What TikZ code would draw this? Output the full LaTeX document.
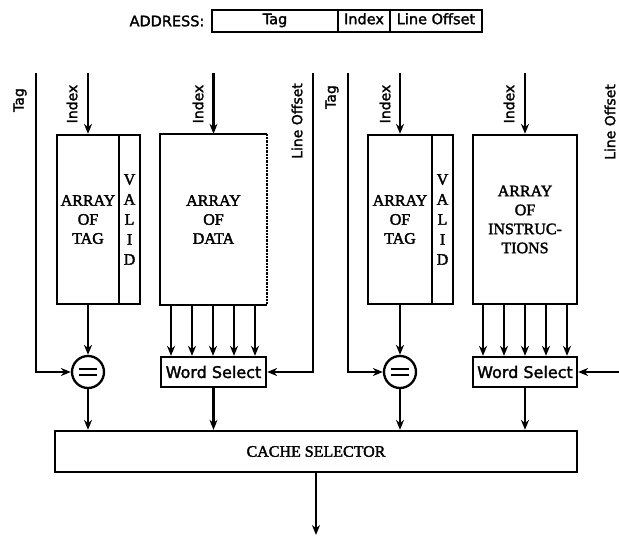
\documentclass[tikz,border=0pt]{standalone}
\usepackage{fontspec}
\setmainfont{Liberation Serif}
\newfontfamily\serfont{Liberation Serif}[FakeBold=2]
\newfontfamily\lblfont{DejaVu Sans}[FakeBold=1.8]
\usetikzlibrary{arrows.meta}
\begin{document}
\begin{tikzpicture}[x=1pt,y=-1pt,line width=2.3pt,
  >={Stealth[length=10pt,width=8pt]},
  sanslbl/.style={font=\lblfont\fontsize{14}{16}\selectfont,inner sep=0pt},
  addrlbl/.style={font=\lblfont\fontsize{14.5}{16}\selectfont,inner sep=0pt},
  blk/.style={draw,line width=2.3pt,inner sep=0pt,align=center,
    font=\serfont\fontsize{16}{19}\selectfont},
  validbox/.style={blk,font=\serfont\fontsize{16}{20}\selectfont},
  wsbox/.style={draw,line width=2.3pt,inner sep=0pt,minimum width=105pt,minimum height=30pt,
    font=\lblfont\fontsize{16}{17}\selectfont},
  cmpcirc/.style={draw,circle,line width=2.3pt,minimum size=32pt,inner sep=0pt},
  afield/.style={draw,line width=2.3pt,minimum height=22pt,inner sep=0pt,addrlbl}]
\useasboundingbox (0,0) rectangle (619,537);

% address
\node[addrlbl] (addrlabel) at (167,21) {ADDRESS:};
\node[afield,minimum width=126pt] (ftag) at (275,21) {Tag\strut};
\node[afield,minimum width=52pt] (fidx) at (364,21) {Index\strut};
\node[afield,minimum width=92pt] (foff) at (436,21) {Line Offset\strut};

% left half boxes
\node[blk,minimum width=62pt,minimum height=169pt] (tagA) at (88,219.5) {ARRAY\\OF\\TAG};
\node[validbox,minimum width=21pt,minimum height=169pt] (valA) at (129.5,219.5) {V\\A\\L\\I\\D};
\node[inner sep=0pt,minimum width=105pt,minimum height=169pt,align=center,
  font=\serfont\fontsize{16}{19}\selectfont] (dataA) at (213.5,219.5) {ARRAY\\OF\\DATA};
\draw (dataA.north east) -- (dataA.north west) -- (dataA.south west) -- (dataA.south east);
\draw[densely dotted] (dataA.north east) -- (dataA.south east);
\node[wsbox] (wsA) at (213.5,372) {Word Select};
\node[cmpcirc] (cmpA) at (88,372) {};
\draw[line width=2.6pt] ([xshift=-9pt,yshift=-3pt]cmpA.center) -- ([xshift=9pt,yshift=-3pt]cmpA.center);
\draw[line width=2.6pt] ([xshift=-9pt,yshift=3pt]cmpA.center) -- ([xshift=9pt,yshift=3pt]cmpA.center);

% right half boxes
\node[blk,minimum width=64pt,minimum height=169pt] (tagB) at (400,219.5) {ARRAY\\OF\\TAG};
\node[validbox,minimum width=21pt,minimum height=169pt] (valB) at (442.5,219.5) {V\\A\\L\\I\\D};
\node[blk,minimum width=104pt,minimum height=169pt] (instB) at (525,219.5) {ARRAY\\OF\\INSTRUC-\\TIONS};
\node[wsbox,minimum width=104pt] (wsB) at (525,372) {Word Select};
\node[cmpcirc] (cmpB) at (400,372) {};
\draw[line width=2.6pt] ([xshift=-9pt,yshift=-3pt]cmpB.center) -- ([xshift=9pt,yshift=-3pt]cmpB.center);
\draw[line width=2.6pt] ([xshift=-9pt,yshift=3pt]cmpB.center) -- ([xshift=9pt,yshift=3pt]cmpB.center);

% cache selector
\node[blk,minimum width=522pt,minimum height=41pt] (cache) at (316,451.5) {CACHE SELECTOR};
\coordinate (out) at (316,535);

% input line tops
\coordinate (tagtopA) at (36,73);
\coordinate (idxtopA) at (88,73);
\coordinate (idxtopB) at (213.5,73);
\coordinate (offtopA) at (313,73);
\coordinate (tagtopB) at (348,73);
\coordinate (idxtopC) at (400,73);
\coordinate (idxtopD) at (525,73);
\coordinate (offinB) at (619,372);

% labels
\node[sanslbl,rotate=90] (lTagA) at (20,100) {Tag};
\node[sanslbl,rotate=90] (lIdxA) at (72,104) {Index};
\node[sanslbl,rotate=90] (lIdxB) at (198,104) {Index};
\node[sanslbl,rotate=90] (lOffA) at (297,121) {Line Offset};
\node[sanslbl,rotate=90] (lTagB) at (332,97) {Tag};
\node[sanslbl,rotate=90] (lIdxC) at (385,104) {Index};
\node[sanslbl,rotate=90] (lIdxD) at (509,104) {Index};
\node[sanslbl,rotate=90] (lOffB) at (610,122) {Line Offset};

% connectors left
\draw[->] (idxtopA) -- (tagA.north);
\draw[->] (idxtopB) -- (dataA.north);
\draw[->] (tagtopA) |- (cmpA.west);
\draw[->] (tagA.south) -- (cmpA.north);
\draw[->] (cmpA.south) -- (cmpA.south |- cache.north);
\draw[->] (offtopA) |- (wsA.east);
\foreach \x in {171,192,213,234,255}
  \draw[->] (\x,0 |- dataA.south) -- (\x,0 |- wsA.north);
\draw[->] (wsA.south) -- (wsA.south |- cache.north);

% connectors right
\draw[->] (idxtopC) -- (tagB.north);
\draw[->] (idxtopD) -- (instB.north);
\draw[->] (tagtopB) |- (cmpB.west);
\draw[->] (tagB.south) -- (cmpB.north);
\draw[->] (cmpB.south) -- (cmpB.south |- cache.north);
\draw[->] (offinB) -- (wsB.east);
\foreach \x in {483,504,525,546,567}
  \draw[->] (\x,0 |- instB.south) -- (\x,0 |- wsB.north);
\draw[->] (wsB.south) -- (wsB.south |- cache.north);

\draw[->] (cache.south) -- (out);
\end{tikzpicture}
\end{document}
